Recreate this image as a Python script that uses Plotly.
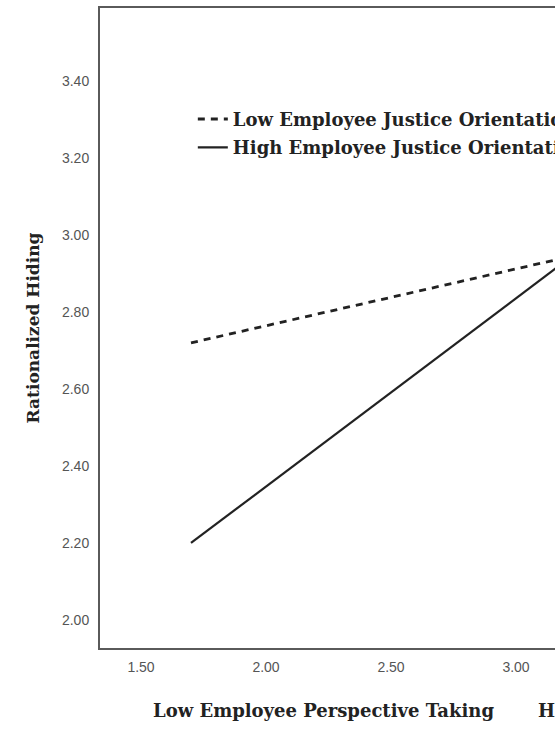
import plotly.graph_objects as go

# Simple slopes: perspective taking (x) vs. rationalized hiding (y)
perspective_taking = [1.70, 3.50]
low_justice = [2.72, 2.986]
high_justice = [2.20, 3.08]

series_names = ["Low Employee Justice Orientation", "High Employee Justice Orientation"]
x_ticks = [1.50, 2.00, 2.50, 3.00, 3.50]
y_ticks = [2.00, 2.20, 2.40, 2.60, 2.80, 3.00, 3.20, 3.40]

serif = "DejaVu Serif"
sans = "Liberation Sans"
ink = "#222222"
frame = "#5a5a5a"
label_font = dict(family=serif, size=18, color=ink, weight="bold")

fig = go.Figure()
fig.add_trace(go.Scatter(
    x=perspective_taking, y=low_justice, mode="lines", name=series_names[0],
    legendgroup="low", line=dict(color=ink, width=2.8, dash="7px,6px"),
))
fig.add_trace(go.Scatter(
    x=perspective_taking, y=high_justice, mode="lines", name=series_names[1],
    legendgroup="high", line=dict(color=ink, width=2.2),
))

fig.update_layout(
    width=555, height=730,
    margin=dict(l=100, r=0, t=8, b=82, autoexpand=False),
    paper_bgcolor="white", plot_bgcolor="white",
    showlegend=True,
    legend=dict(
        x=0.204, y=0.855, xanchor="left", yanchor="top",
        bgcolor="rgba(0,0,0,0)",
        font=label_font,
        itemwidth=30, tracegroupgap=2, traceorder="grouped",
    ),
    xaxis=dict(
        range=[1.336, 3.156], tickvals=x_ticks,
        ticktext=[f"{v:.2f}" for v in x_ticks],
        showgrid=False, zeroline=False, ticks="outside", ticklen=5,
        tickcolor="rgba(0,0,0,0)",
        showline=True, linecolor=frame, linewidth=2, mirror=True,
        tickfont=dict(family=sans, size=14, color="#555"),
    ),
    yaxis=dict(
        range=[1.927, 3.59], tickvals=y_ticks,
        ticktext=[f"{v:.2f}" for v in y_ticks],
        showgrid=False, zeroline=False, ticks="outside", ticklen=6,
        tickcolor="rgba(0,0,0,0)",
        showline=True, linecolor=frame, linewidth=2, mirror=False,
        tickfont=dict(family=sans, size=14, color="#555"),
        title=dict(text="Rationalized Hiding",
                   font=dict(family=serif, size=17, color=ink, weight="bold"),
                   standoff=18),
    ),
    annotations=[
        dict(text="Low Employee Perspective Taking", xref="paper", yref="paper",
             x=(323 - 100) / 455, y=-0.097, xanchor="center", yanchor="middle",
             showarrow=False, font=label_font),
        dict(text="High Employee Perspective Taking", xref="paper", yref="paper",
             x=(536 - 100) / 455, y=-0.097, xanchor="left", yanchor="middle",
             showarrow=False, font=label_font),
    ],
)

fig.write_html("out.html")
